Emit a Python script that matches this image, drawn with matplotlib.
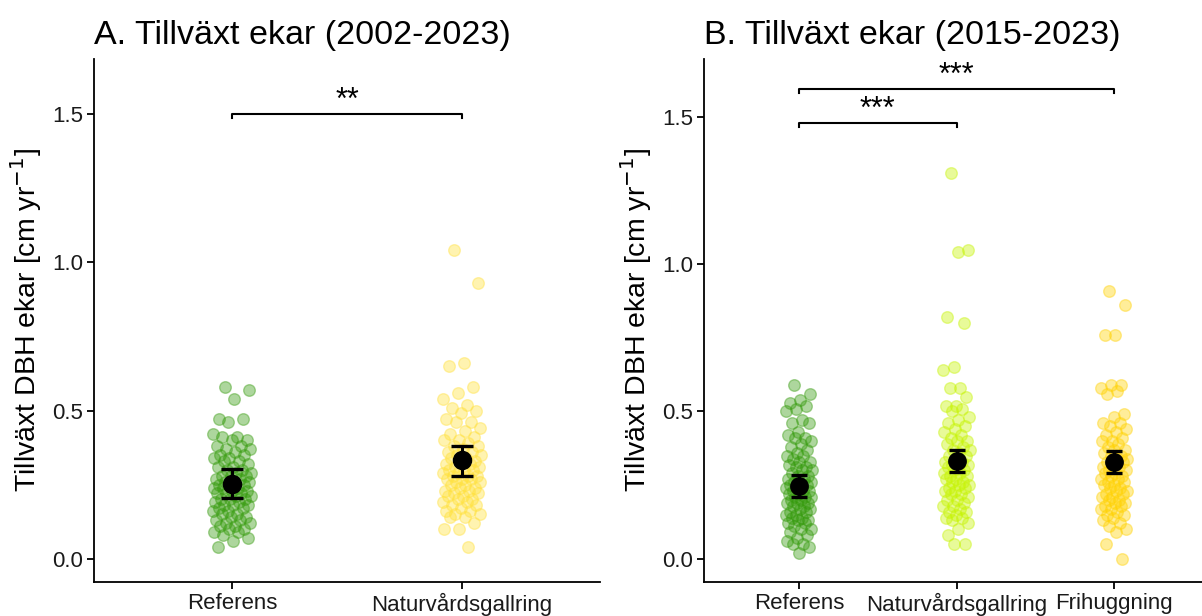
import matplotlib
matplotlib.use("Agg")
import matplotlib.pyplot as plt
import numpy as np

plt.rcParams['font.family'] = ['Liberation Sans', 'DejaVu Sans']

# data, panel A (2002-2023)
cats_a = ['Referens', 'Naturvårdsgallring']
ref_a = [0.58, 0.57, 0.54, 0.47, 0.47, 0.46, 0.42, 0.41, 0.41, 0.40, 0.40, 0.38,
         0.38, 0.37, 0.37, 0.36, 0.35, 0.35, 0.34, 0.34, 0.33, 0.33, 0.32, 0.31,
         0.31, 0.30, 0.30, 0.29, 0.29, 0.28, 0.28, 0.28, 0.27, 0.27, 0.26, 0.26,
         0.26, 0.25, 0.25, 0.25, 0.24, 0.24, 0.24, 0.23, 0.23, 0.22, 0.22, 0.22,
         0.21, 0.21, 0.20, 0.20, 0.20, 0.19, 0.19, 0.18, 0.18, 0.18, 0.17, 0.17,
         0.16, 0.16, 0.15, 0.15, 0.14, 0.14, 0.13, 0.13, 0.12, 0.12, 0.11, 0.11,
         0.10, 0.10, 0.09, 0.09, 0.08, 0.07, 0.06, 0.04]
nat_a = [1.04, 0.93, 0.66, 0.65, 0.58, 0.56, 0.54, 0.52, 0.51, 0.50, 0.49, 0.47,
         0.46, 0.46, 0.44, 0.43, 0.42, 0.41, 0.40, 0.40, 0.39, 0.38, 0.38, 0.37,
         0.36, 0.36, 0.35, 0.35, 0.34, 0.34, 0.33, 0.33, 0.32, 0.32, 0.31, 0.31,
         0.30, 0.30, 0.30, 0.29, 0.29, 0.28, 0.28, 0.28, 0.27, 0.27, 0.27, 0.26,
         0.26, 0.25, 0.25, 0.24, 0.24, 0.23, 0.23, 0.22, 0.22, 0.21, 0.21, 0.20,
         0.20, 0.19, 0.19, 0.18, 0.18, 0.17, 0.16, 0.16, 0.15, 0.15, 0.14, 0.14,
         0.12, 0.10, 0.10, 0.04]
mean_a = [0.252, 0.332]
lo_a = [0.204, 0.279]
hi_a = [0.301, 0.381]

# data, panel B (2015-2023)
cats_b = ['Referens', 'Naturvårdsgallring', 'Frihuggning']
ref_b = [0.59, 0.56, 0.54, 0.53, 0.52, 0.51, 0.50, 0.47, 0.46, 0.46, 0.43, 0.42,
         0.41, 0.41, 0.40, 0.39, 0.38, 0.37, 0.36, 0.35, 0.35, 0.34, 0.33, 0.33,
         0.32, 0.31, 0.31, 0.30, 0.30, 0.29, 0.28, 0.28, 0.27, 0.27, 0.26, 0.26,
         0.25, 0.25, 0.25, 0.24, 0.24, 0.23, 0.23, 0.23, 0.22, 0.22, 0.21, 0.21,
         0.21, 0.20, 0.20, 0.19, 0.19, 0.19, 0.18, 0.18, 0.17, 0.17, 0.16, 0.16,
         0.15, 0.15, 0.14, 0.14, 0.13, 0.13, 0.12, 0.12, 0.11, 0.10, 0.10, 0.09,
         0.08, 0.07, 0.06, 0.05, 0.05, 0.04, 0.02]
nat_b = [1.31, 1.05, 1.04, 0.82, 0.80, 0.65, 0.64, 0.58, 0.58, 0.55, 0.52, 0.52,
         0.51, 0.50, 0.48, 0.47, 0.46, 0.45, 0.44, 0.43, 0.42, 0.41, 0.40, 0.40,
         0.39, 0.38, 0.37, 0.37, 0.36, 0.35, 0.35, 0.34, 0.33, 0.33, 0.32, 0.32,
         0.31, 0.31, 0.30, 0.30, 0.29, 0.29, 0.28, 0.28, 0.27, 0.27, 0.26, 0.26,
         0.25, 0.25, 0.24, 0.24, 0.23, 0.23, 0.22, 0.22, 0.21, 0.20, 0.20, 0.19,
         0.18, 0.18, 0.17, 0.16, 0.16, 0.15, 0.14, 0.14, 0.13, 0.12, 0.10, 0.08,
         0.05, 0.05]
fri_b = [0.91, 0.86, 0.76, 0.76, 0.59, 0.59, 0.58, 0.57, 0.56, 0.49, 0.48, 0.46,
         0.46, 0.45, 0.44, 0.43, 0.42, 0.41, 0.40, 0.40, 0.39, 0.38, 0.37, 0.37,
         0.36, 0.35, 0.35, 0.34, 0.34, 0.33, 0.33, 0.32, 0.31, 0.31, 0.30, 0.30,
         0.29, 0.29, 0.28, 0.28, 0.27, 0.27, 0.26, 0.26, 0.25, 0.25, 0.24, 0.24,
         0.23, 0.23, 0.22, 0.22, 0.21, 0.21, 0.20, 0.20, 0.19, 0.19, 0.18, 0.18,
         0.17, 0.17, 0.16, 0.15, 0.15, 0.14, 0.13, 0.12, 0.11, 0.10, 0.09, 0.05,
         0.00]
mean_b = [0.247, 0.332, 0.329]
lo_b = [0.210, 0.294, 0.290]
hi_b = [0.284, 0.369, 0.367]

col_ref = '#339A0A'
col_nat_a = '#FFE13A'
col_nat_b = '#C6F400'
col_fri = '#FFD200'

fig = plt.figure(figsize=(12.02, 6.16), dpi=100)
axA = fig.add_axes([0.0786, 0.0552, 0.4206, 0.849])
axB = fig.add_axes([0.5861, 0.0552, 0.4194, 0.849])


def jitter(n, w=0.085):
    # deterministic spread of points around the category centre
    return ((np.arange(n) * 0.6180339887 + 0.3) % 1 - 0.5) * 2 * w


def panel(ax, cats, groups, colors, means, lo, hi, ylim, cap, msize):
    for i, (vals, c) in enumerate(zip(groups, colors)):
        x = i + 1 + jitter(len(vals))
        ax.scatter(x, vals, s=70, color=c, alpha=0.4, linewidths=1, zorder=2)
    xs = np.arange(1, len(cats) + 1)
    m = np.array(means)
    yerr = [m - np.array(lo), np.array(hi) - m]
    ax.errorbar(xs, m, yerr=yerr, fmt='o', color='black', markersize=msize,
                capsize=cap, capthick=2.4, elinewidth=2.2, zorder=3)
    ax.set_xlim(0.4, len(cats) + 0.6)
    ax.set_ylim(*ylim)
    ax.set_xticks(xs)
    ax.set_xticklabels(cats)
    ax.set_yticks([0.0, 0.5, 1.0, 1.5])
    ax.set_yticklabels(['0.0', '0.5', '1.0', '1.5'])
    ax.tick_params(labelsize=16, length=5, width=1.3, color='black',
                   labelcolor='#1a1a1a', pad=3)
    for s in ['top', 'right']:
        ax.spines[s].set_visible(False)
    for s in ['left', 'bottom']:
        ax.spines[s].set_linewidth(1.3)
    ax.set_ylabel('Tillväxt DBH ekar [cm yr$^{-1}$]', fontsize=20.5, labelpad=6)


def signif(ax, x1, x2, y, label, tick=0.012):
    ax.plot([x1, x1, x2, x2], [y - tick, y, y, y - tick], color='black', lw=1.5)
    ax.text((x1 + x2) / 2, y - 0.005, label, ha='center', va='bottom', fontsize=22)


panel(axA, cats_a, [ref_a, nat_a], [col_ref, col_nat_a], mean_a, lo_a, hi_a,
      (-0.0786, 1.686), 8, 13)
panel(axB, cats_b, [ref_b, nat_b, fri_b], [col_ref, col_nat_b, col_fri],
      mean_b, lo_b, hi_b, (-0.079, 1.697), 5.5, 12.5)

signif(axA, 1, 2, 1.50, '**')
signif(axB, 1, 2, 1.479, '***')
signif(axB, 1, 3, 1.595, '***')

axA.set_title('A. Tillväxt ekar (2002-2023)', loc='left', fontsize=24.5, pad=11)
axB.set_title('B. Tillväxt ekar (2015-2023)', loc='left', fontsize=24.5, pad=11)

fig.savefig('out.png', dpi=100)
